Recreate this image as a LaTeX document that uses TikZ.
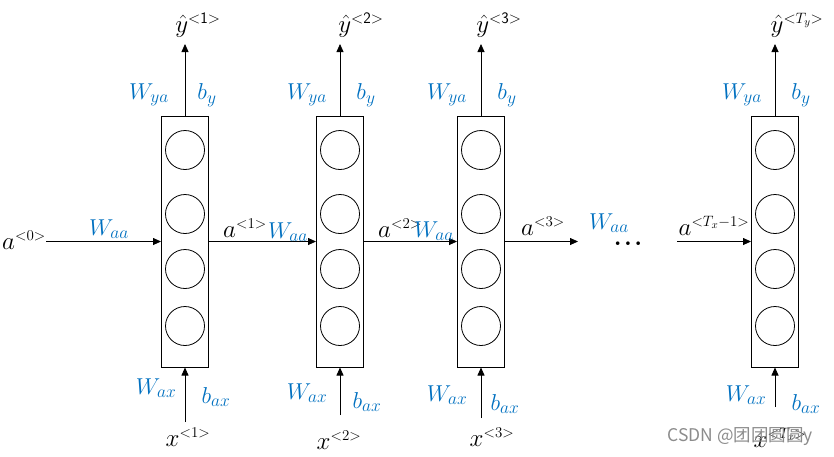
\RequirePackage{fix-cm}
\documentclass[tikz,border=0pt]{standalone}
\usepackage{fontspec}
\newfontfamily\cjk{Noto Sans CJK SC}
\usetikzlibrary{arrows.meta}
\definecolor{lblue}{RGB}{0,112,192}
\DeclareMathSizes{23}{23}{17.5}{13}
\DeclareMathSizes{25}{25}{15}{11}
\newcommand{\ysup}[1]{\mbox{\sffamily\fontsize{16}{17}\selectfont #1}}
\begin{document}
\begin{tikzpicture}[x=1pt,y=-1pt,
  cell/.style={draw,line width=1pt,minimum width=47pt,minimum height=251pt,inner sep=0pt},
  unit/.style={draw,circle,minimum size=39pt,inner sep=0pt,line width=0.8pt},
  conn/.style={-{Triangle[length=8pt,width=7pt]},line width=0.8pt},
  wlab/.style={text=lblue,font=\fontsize{23}{25}\selectfont,inner sep=0pt},
  blab/.style={font=\fontsize{25}{27}\selectfont,inner sep=0pt},
  wm/.style={text=black!45,font=\cjk\fontsize{17.5}{19}\selectfont,inner sep=0pt}]
\useasboundingbox (0,0) rectangle (834,456);

% cells
\foreach \n/\cx in {1/185,2/340,3/481,4/775}{
  \node[cell] (c\n) at (\cx,241.5) {};
  \node[unit] (u\n a) at (\cx,150) {};
  \node[unit] (u\n b) at (\cx,214) {};
  \node[unit] (u\n c) at (\cx,269) {};
  \node[unit] (u\n d) at (\cx,326) {};
}

% output arrows
\foreach \n/\cx in {1/185,2/340,3/481,4/775}{
  \coordinate (t\n) at (\cx,44);
  \draw[conn] (c\n.north) -- (t\n);
}
% input arrows
\coordinate (s1) at (185,422);
\coordinate (s2) at (340,415);
\coordinate (s3) at (481,418);
\coordinate (s4) at (775,407);
\foreach \n in {1,2,3,4}{ \draw[conn] (s\n) -- (c\n.south); }

% horizontal arrows
\coordinate (in0) at (46,241.5);
\coordinate (out3) at (578,241.5);
\coordinate (in4) at (677,241.5);
\draw[conn] (in0) -- (c1.west);
\draw[conn] (c1.east) -- (c2.west);
\draw[conn] (c2.east) -- (c3.west);
\draw[conn] (c3.east) -- (out3);
\draw[conn] (in4) -- (c4.west);

% horizontal labels
\node[blab] (a0) at (24,240) {$a^{<0>}$};
\node[wlab] (w0) at (109,229) {$W_{aa}$};
\node[blab] (a1) at (245,228) {$a^{<1>}$};
\node[wlab] (w1) at (288,232) {$W_{aa}$};
\node[blab] (a2) at (400,228) {$a^{<2>}$};
\node[wlab] (w2) at (434,231) {$W_{aa}$};
\node[blab] (a3) at (543,226) {$a^{<3>}$};
\node[wlab] (w3) at (609,223) {$W_{aa}$};
\node[blab,anchor=base] (dots) at (628,245) {\textbf{.\hspace{2.5pt}.\hspace{2.5pt}.}};
\node[blab] (a4) at (714,226) {$a^{<T_x-1>}$};

% top labels
\node[blab] (y1) at (198,25) {$\hat{y}^{\ysup{<1>}}$};
\node[blab] (y2) at (361,25) {$\hat{y}^{\ysup{<2>}}$};
\node[blab] (y3) at (499,25) {$\hat{y}^{\ysup{<3>}}$};
\node[blab] (y4) at (797,25) {$\hat{y}^{\ysup{<}T_y\ysup{>}}$};
\node[wlab] (wy1) at (149,95) {$W_{ya}$};
\node[wlab] (by1) at (207,95) {$b_{y}$};
\node[wlab] (wy2) at (307,95) {$W_{ya}$};
\node[wlab] (by2) at (366,95) {$b_{y}$};
\node[wlab] (wy3) at (447,95) {$W_{ya}$};
\node[wlab] (by3) at (507,95) {$b_{y}$};
\node[wlab] (wy4) at (742,95) {$W_{ya}$};
\node[wlab] (by4) at (801,95) {$b_{y}$};

% bottom labels
\node[wlab] (wx1) at (156,388) {$W_{ax}$};
\node[wlab] (bx1) at (216,397) {$b_{ax}$};
\node[blab] (x1) at (188,437) {$x^{<1>}$};
\node[wlab] (wx2) at (307,393) {$W_{ax}$};
\node[wlab] (bx2) at (367,402) {$b_{ax}$};
\node[blab] (x2) at (339,440) {$x^{<2>}$};
\node[wlab] (wx3) at (447,395) {$W_{ax}$};
\node[wlab] (bx3) at (505,404) {$b_{ax}$};
\node[blab] (x3) at (492,437) {$x^{<3>}$};
\node[wlab] (wx4) at (746,395) {$W_{ax}$};
\node[wlab] (bx4) at (806,404) {$b_{ax}$};
\node[blab] (x4) at (780,438) {$x^{<T_x>}$};

% watermark
\node[wm] (mark) at (740,437) {CSDN @团团圆圆y};
\end{tikzpicture}
\end{document}
